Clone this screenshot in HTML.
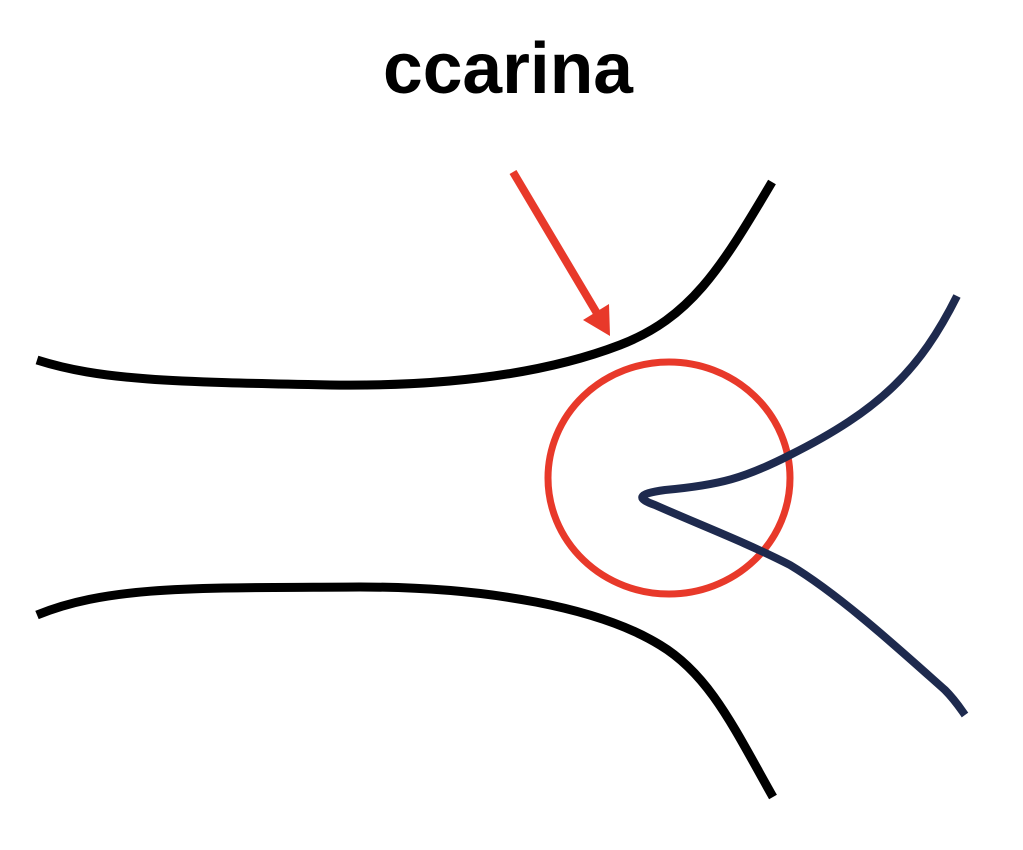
<!DOCTYPE html>
<html><head><meta charset="utf-8"><style>
html,body{margin:0;padding:0;background:#fff;}
</style></head><body>
<svg width="1023" height="845" viewBox="0 0 1023 845" xmlns="http://www.w3.org/2000/svg">
<text x="383" y="93" textLength="250" lengthAdjust="spacingAndGlyphs" font-family="Liberation Sans, sans-serif" font-weight="bold" font-size="72" fill="#000">ccarina</text>
<g fill="none" stroke="#000" stroke-width="9" stroke-linecap="butt">
<path d="M37,360 C100,380 170,382 330,385 C470,387 560,368 620,345 C690,318 720,270 772,182"/>
<path d="M37,615 C110,585 200,588 360,587 C490,587 600,608 660,645 C710,675 735,730 773,797"/>
</g>
<ellipse cx="669" cy="478" rx="121" ry="116" fill="none" stroke="#E8392A" stroke-width="7"/>
<path d="M957,296 C920,370 880,410 790,455 C745,478 720,485 665,490 C635,494 638,499 655,505 C700,525 745,542 790,565 C840,595 900,650 945,690 C955,700 960,708 965,715" fill="none" stroke="#1E2A4E" stroke-width="8" stroke-linejoin="round"/>
<line x1="513" y1="172" x2="598" y2="315" stroke="#E8392A" stroke-width="8"/>
<polygon points="610,336 583,320 609,304" fill="#E8392A"/>
</svg>
</body></html>
